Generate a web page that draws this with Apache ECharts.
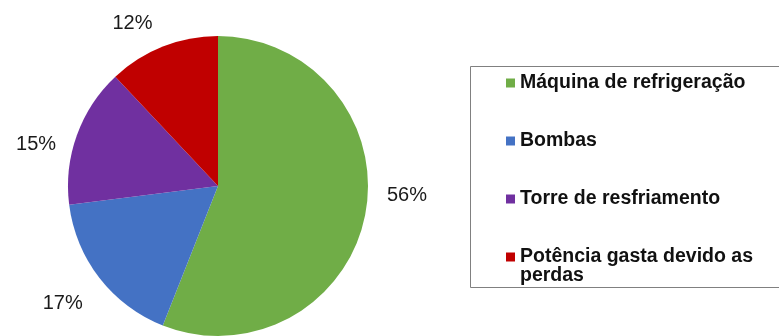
<!DOCTYPE html>
<html>
<head>
<meta charset="utf-8">
<script src="https://cdn.jsdelivr.net/npm/echarts@6/dist/echarts.min.js"></script>
<style>
html,body{margin:0;padding:0;background:#fff;}
#c{width:779px;height:336px;}
</style>
</head>
<body>
<div id="c"></div>
<script>
// Data
const categories = ['Máquina de refrigeração', 'Bombas', 'Torre de resfriamento', 'Potência gasta devido as perdas'];
const values = [56, 17, 15, 12];
const legendLines = [['Máquina de refrigeração'], ['Bombas'], ['Torre de resfriamento'], ['Potência gasta devido as', 'perdas']];

// Styles
const colors = ['#70AD47', '#4472C4', '#7030A0', '#C00000'];
const LABEL_NUDGE = [[-3, -22], [4, 13], [3, 16], [2, -4]];
const FONT = '"Liberation Sans", Arial, sans-serif';

const chart = echarts.init(document.getElementById('c'), null, {renderer: 'canvas'});

const rich = {
  gp: {width: 5, height: 9, lineHeight: 19},
  ind: {width: 14, height: 9, lineHeight: 19},
  t: {fontSize: 19.5, fontWeight: 'bold', color: '#111', fontFamily: FONT, lineHeight: 19}
};
colors.forEach((c, i) => {
  rich['sq' + i] = {width: 9, height: 9, backgroundColor: c, lineHeight: 19};
});

chart.setOption({
  backgroundColor: '#ffffff',
  animation: false,
  color: colors,
  graphic: [{
    type: 'rect',
    shape: {x: 470.5, y: 66.5, width: 330, height: 221},
    style: {fill: 'none', stroke: '#808080', lineWidth: 1},
    z: 0
  }],
  legend: {
    orient: 'vertical',
    left: 495,
    top: 68,
    itemWidth: 1,
    itemHeight: 1,
    itemGap: 38,
    icon: 'rect',
    itemStyle: {opacity: 0},
    selectedMode: false,
    data: categories,
    formatter: function (name) {
      const i = categories.indexOf(name);
      const lines = legendLines[i];
      return lines.map((l, k) => (k === 0 ? '{sq' + i + '| }{gp| }' : '{ind| }') + '{t|' + l + '}').join('\n');
    },
    textStyle: {rich: rich, fontFamily: FONT, fontSize: 19.5, lineHeight: 19}
  },
  series: [{
    type: 'pie',
    center: [218, 186],
    radius: 150,
    startAngle: 90,
    clockwise: true,
    avoidLabelOverlap: false,
    itemStyle: {borderWidth: 0},
    emphasis: {disabled: true},
    label: {
      show: true,
      position: 'outside',
      formatter: '{c}%',
      fontSize: 20,
      color: '#1a1a1a',
      fontFamily: FONT
    },
    labelLine: {show: false, length: 20, length2: 0},
    labelLayout: function (p) {
      const n = LABEL_NUDGE[p.dataIndex];
      return {dx: n[0], dy: n[1]};
    },
    data: categories.map((name, i) => ({name: name, value: values[i]}))
  }]
});
</script>
</body>
</html>
